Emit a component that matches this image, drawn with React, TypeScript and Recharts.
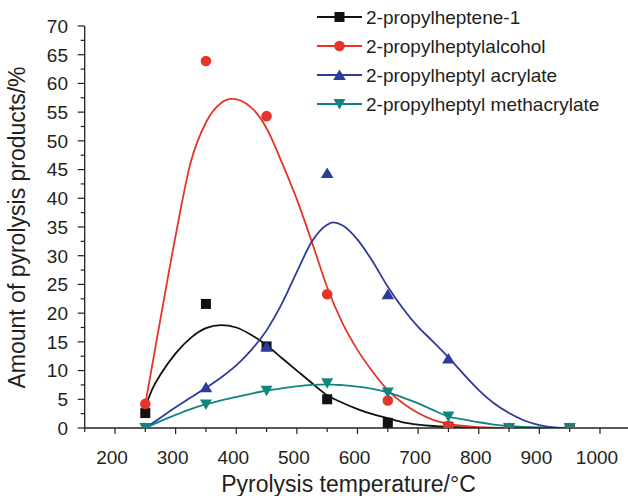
import React from 'react';
import { ComposedChart, Line, Scatter, XAxis, YAxis, Legend } from 'recharts';

// measured points
const temperatures = [250, 350, 450, 550, 650, 750, 850, 950];
const hepteneValues = [2.6, 21.6, 14.2, 5.0, 0.9, 0.2, 0, 0];
const alcoholValues = [4.2, 63.9, 54.3, 23.3, 4.8, 0.4, 0, 0];
const acrylateValues = [0, 7.1, 14.2, 44.4, 23.3, 12.1, 0, 0];
const methacrylateValues = [0, 4.1, 6.5, 7.8, 6.2, 2.0, 0, 0];

// fitted curves
const hepteneFitT = [250, 262.5, 275, 300, 325, 350, 375, 400, 425, 450, 475, 500, 525, 550, 575, 600, 625, 650, 675, 700, 725, 750, 775, 800];
const hepteneFitV = [3.7, 7.0, 9.3, 13.0, 15.7, 17.4, 17.9, 17.5, 16.2, 14.4, 12.2, 10.0, 7.8, 5.7, 4.4, 3.3, 2.4, 1.7, 1.0, 0.6, 0.35, 0.2, 0.1, 0];

const alcoholFitT = [250, 275, 300, 325, 350, 375, 393, 425, 450, 475, 500, 525, 550, 575, 600, 625, 650, 675, 700, 725, 750, 800, 850, 900];
const alcoholFitV = [4.2, 19.0, 33.5, 46.3, 53.2, 56.6, 57.3, 55.8, 52.2, 46.3, 39.8, 32.3, 24.5, 18.3, 13.6, 9.8, 6.6, 4.3, 2.6, 1.4, 0.7, 0.15, 0.02, 0];

const acrylateFitT = [250, 275, 300, 325, 350, 375, 400, 425, 450, 475, 500, 525, 550, 560, 575, 600, 625, 650, 675, 700, 725, 750, 775, 800, 825, 850, 875, 900, 925, 950];
const acrylateFitV = [0, 1.8, 3.6, 5.3, 7.0, 8.8, 10.9, 13.6, 17.0, 21.6, 27.2, 32.5, 35.4, 35.8, 35.3, 32.8, 29.0, 24.6, 20.8, 17.6, 15.0, 12.3, 9.4, 6.6, 4.3, 2.6, 1.3, 0.5, 0.1, 0];

const methacrylateFitT = [250, 275, 300, 325, 350, 375, 400, 425, 450, 475, 500, 525, 550, 575, 600, 625, 650, 675, 700, 725, 750, 775, 800, 825, 850, 875, 900, 950];
const methacrylateFitV = [0, 1.2, 2.3, 3.3, 4.1, 4.8, 5.4, 6.0, 6.5, 6.9, 7.25, 7.5, 7.6, 7.45, 7.2, 6.8, 6.2, 5.3, 4.3, 3.1, 2.0, 1.5, 1.0, 0.6, 0.35, 0.2, 0.1, 0];

const seriesNames = ['2-propylheptene-1', '2-propylheptylalcohol', '2-propylheptyl acrylate', '2-propylheptyl methacrylate'];
const seriesColors = ['#111111', '#e5352a', '#2d3c9c', '#11857f'];
const seriesMarkers = ['square', 'circle', 'triangle', 'down'];

const xTicks = [150, 200, 250, 300, 350, 400, 450, 500, 550, 600, 650, 700, 750, 800, 850, 900, 950, 1000, 1050];
const xLabelTicks = [200, 300, 400, 500, 600, 700, 800, 900, 1000];
const yTicks = [0, 2.5, 5, 7.5, 10, 12.5, 15, 17.5, 20, 22.5, 25, 27.5, 30, 32.5, 35, 37.5, 40, 42.5, 45, 47.5, 50, 52.5, 55, 57.5, 60, 62.5, 65, 67.5, 70];
const yLabelTicks = [0, 5, 10, 15, 20, 25, 30, 35, 40, 45, 50, 55, 60, 65, 70];

const FONT = '"Liberation Sans", Arial, Helvetica, sans-serif';
const TEXT = '#231f20';

const toPts = (xs: number[], ys: number[]) => xs.map((x, i) => ({ x, y: ys[i] }));

const pointSets = [hepteneValues, alcoholValues, acrylateValues, methacrylateValues].map((v) => toPts(temperatures, v));
const fitSets = [
  toPts(hepteneFitT, hepteneFitV),
  toPts(alcoholFitT, alcoholFitV),
  toPts(acrylateFitT, acrylateFitV),
  toPts(methacrylateFitT, methacrylateFitV),
];

function marker(kind: string, cx: number, cy: number, color: string) {
  if (kind === 'square') return <rect x={cx - 5} y={cy - 5} width={10} height={10} fill={color} />;
  if (kind === 'circle') return <circle cx={cx} cy={cy} r={5.3} fill={color} />;
  if (kind === 'triangle')
    return <polygon points={`${cx - 6.3},${cy + 5} ${cx + 6.3},${cy + 5} ${cx},${cy - 5.5}`} fill={color} />;
  return <polygon points={`${cx - 6},${cy - 5} ${cx + 6},${cy - 5} ${cx},${cy + 5.5}`} fill={color} />;
}

const makeShape = (kind: string, color: string) => (props: any) => {
  if (props.cx == null || props.cy == null) return <g />;
  return marker(kind, props.cx, props.cy, color);
};

const XTick = (props: any) => {
  const { x, y, payload } = props;
  const v = payload.value;
  const major = xLabelTicks.includes(v);
  return (
    <g>
      <line x1={x} x2={x} y1={y} y2={y + (major ? 6 : 4)} stroke={TEXT} strokeWidth={1.2} />
      {major && (
        <text x={x - 3} y={463.5} textAnchor="middle" fontSize={19} fontFamily={FONT} fill={TEXT}>
          {v}
        </text>
      )}
    </g>
  );
};

const YTick = (props: any) => {
  const { x, y, payload } = props;
  const v = payload.value;
  const major = yLabelTicks.includes(v);
  return (
    <g>
      <line x1={x} x2={x - (major ? 7 : 4)} y1={y} y2={y} stroke={TEXT} strokeWidth={1.2} />
      {major && (
        <text x={68} y={y + 6.8} textAnchor="end" fontSize={19} fontFamily={FONT} fill={TEXT}>
          {v}
        </text>
      )}
    </g>
  );
};

const renderLegend = () => (
  <svg width={318} height={120} style={{ display: 'block' }}>
    {seriesNames.map((name, i) => {
      const cy = 17 + i * 29;
      return (
        <g key={name}>
          <line x1={7} x2={52} y1={cy} y2={cy} stroke={seriesColors[i]} strokeWidth={1.8} />
          {marker(seriesMarkers[i], 29.5, cy, seriesColors[i])}
          <text x={56} y={cy + 6.8} fontSize={19} fontFamily={FONT} fill={TEXT}>
            {name}
          </text>
        </g>
      );
    })}
  </svg>
);

export default function App() {
  return (
    <div style={{ position: 'absolute', left: 0, top: 0, width: 628, height: 496, overflow: 'hidden', background: '#fff' }}>
      <ComposedChart width={632} height={496} margin={{ top: 26, right: 1.69, bottom: 0, left: 0 }}>
        <XAxis
          type="number"
          dataKey="x"
          domain={[150, 1050]}
          ticks={xTicks}
          interval={0}
          height={68}
          tickSize={0}
          tickMargin={0}
          tickLine={false}
          tick={<XTick />}
          axisLine={{ stroke: TEXT, strokeWidth: 1.3 }}
          allowDataOverflow
        />
        <YAxis
          type="number"
          dataKey="y"
          domain={[0, 70]}
          ticks={yTicks}
          interval={0}
          width={84.69}
          tickSize={0}
          tickMargin={0}
          tickLine={false}
          tick={<YTick />}
          axisLine={{ stroke: TEXT, strokeWidth: 1.3 }}
          allowDataOverflow
        />
        <Legend
          layout="horizontal"
          verticalAlign="middle"
          align="center"
          content={renderLegend}
          wrapperStyle={{ position: 'absolute', left: 310, top: 0, width: 318, height: 120 }}
        />
        {fitSets.map((d, i) => (
          <Line
            key={'fit' + i}
            data={d}
            dataKey="y"
            type="monotone"
            stroke={seriesColors[i]}
            strokeWidth={1.8}
            dot={false}
            activeDot={false}
            isAnimationActive={false}
            legendType="none"
          />
        ))}
        {pointSets.map((d, i) => (
          <Scatter
            key={'pts' + i}
            data={d}
            dataKey="y"
            shape={makeShape(seriesMarkers[i], seriesColors[i])}
            isAnimationActive={false}
            legendType="none"
          />
        ))}
        <text x={348.5} y={492} textAnchor="middle" fontSize={23} fontFamily={FONT} fill={TEXT}>
          Pyrolysis temperature/°C
        </text>
        <text
          x={25}
          y={227.5}
          textAnchor="middle"
          fontSize={23}
          fontFamily={FONT}
          fill={TEXT}
          transform="rotate(-90 25 227.5)"
        >
          Amount of pyrolysis products/%
        </text>
      </ComposedChart>
    </div>
  );
}
